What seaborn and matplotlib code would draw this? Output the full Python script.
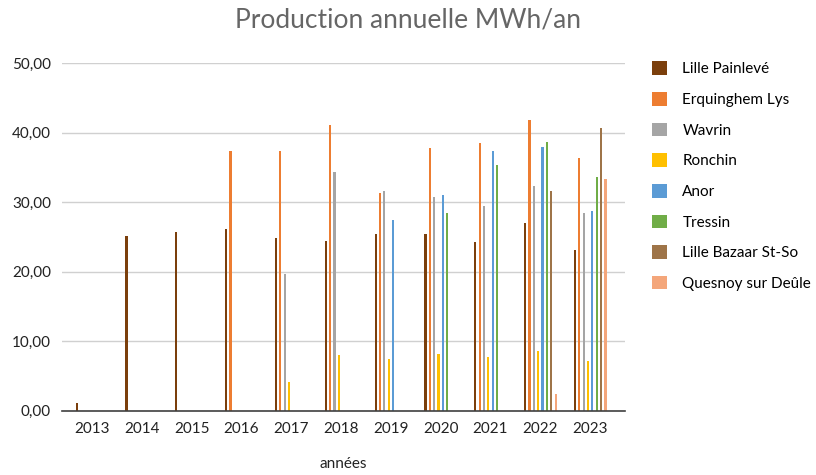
import numpy as np
import pandas as pd
import seaborn as sns
import matplotlib.pyplot as plt
from matplotlib.patches import Patch
from matplotlib.ticker import FuncFormatter

# années et sites
annees = ["2013", "2014", "2015", "2016", "2017", "2018", "2019", "2020", "2021", "2022", "2023"]
sites = ["Lille Painlevé", "Erquinghem Lys", "Wavrin", "Ronchin", "Anor", "Tressin",
         "Lille Bazaar St-So", "Quesnoy sur Deûle"]
couleurs = ["#7B3F0C", "#ED7D31", "#A5A5A5", "#FFC000", "#5B9BD5", "#70AD47", "#9E7448", "#F4A67A"]

# production MWh/an par site (0 = pas de données)
lille_painleve = [1.1, 25.1, 25.7, 26.1, 24.8, 24.5, 25.5, 25.5, 24.3, 27.0, 23.1]
erquinghem = [0, 0, 0, 37.3, 37.3, 41.1, 31.4, 37.8, 38.5, 41.9, 36.3]
wavrin = [0, 0, 0, 0, 19.7, 34.3, 31.6, 30.8, 29.4, 32.4, 28.4]
ronchin = [0, 0, 0, 0, 4.1, 8.0, 7.4, 8.2, 7.8, 8.6, 7.2]
anor = [0, 0, 0, 0, 0, 0, 27.4, 31.0, 37.3, 38.0, 28.8]
tressin = [0, 0, 0, 0, 0, 0, 0, 28.4, 35.4, 38.6, 33.6]
lille_bazaar = [0, 0, 0, 0, 0, 0, 0, 0, 0, 31.6, 40.7]
quesnoy = [0, 0, 0, 0, 0, 0, 0, 0, 0, 2.4, 33.4]

series = [lille_painleve, erquinghem, wavrin, ronchin, anor, tressin, lille_bazaar, quesnoy]
df = pd.DataFrame([(a, s, v) for s, vals in zip(sites, series) for a, v in zip(annees, vals)],
                  columns=["annee", "site", "mwh"])

plt.rcParams['font.family'] = ['Lato', 'DejaVu Sans']
fig = plt.figure(figsize=(8.16, 4.75), dpi=100)
ax = fig.add_axes([0.076, 0.135, 0.690, 0.732])

sns.barplot(data=df, x="annee", y="mwh", hue="site", hue_order=sites, palette=couleurs,
            width=0.7, gap=0.5, legend=False, ax=ax, saturation=1, linewidth=0)

ax.set_ylim(0, 50)
ax.set_xlim(-0.6, 10.7)
ax.set_yticks(np.arange(0, 51, 10))
ax.yaxis.set_major_formatter(FuncFormatter(lambda v, p: f"{v:.2f}".replace(".", ",")))
ax.grid(axis="y", color="#D0D0D0", linewidth=1)
ax.set_axisbelow(True)
for s in ["top", "right", "left"]:
    ax.spines[s].set_visible(False)
ax.spines["bottom"].set_color("#404040")
ax.spines["bottom"].set_linewidth(1.2)
ax.tick_params(length=0, labelsize=11, colors="#222222", pad=8)
ax.set_xlabel("années", fontsize=11, color="#222222", labelpad=15)
ax.set_ylabel("")

fig.suptitle("Production annuelle MWh/an", x=0.5, y=0.985, fontsize=19, color="#666666")

handles = [Patch(facecolor=c, label=s) for s, c in zip(sites, couleurs)]
fig.legend(handles=handles, loc="upper left", bbox_to_anchor=(0.782, 0.9), frameon=False,
           fontsize=11, labelspacing=1.02, handlelength=1.0, handleheight=1.0, handletextpad=1.0)

fig.savefig("out.png", dpi=100)
